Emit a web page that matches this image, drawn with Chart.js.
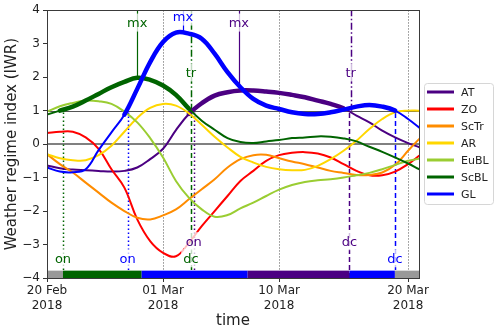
<!DOCTYPE html>
<html>
<head>
<meta charset="utf-8">
<script src="https://cdn.jsdelivr.net/npm/chart.js@4.4.1/dist/chart.umd.min.js"></script>
<style>
  html, body { margin: 0; padding: 0; background: #fff; }
  #wrap { width: 500px; height: 332px; }
</style>
</head>
<body>
<div id="wrap"><canvas id="chart" width="500" height="332"></canvas></div>
<script>
"use strict";

// days since 20 Feb 2018
var days = [0, 1, 2, 3, 4, 5, 6, 7, 8, 9, 10, 11, 12, 13, 14, 15, 16, 17, 18, 19,
            20, 21, 22, 23, 24, 25, 26, 27, 28, 28.85];

var atIndex   = [-0.64, -0.72, -0.76, -0.78, -0.8, -0.82, -0.8, -0.7, -0.45, -0.14, 0.42, 0.9, 1.22, 1.45, 1.55, 1.6, 1.6, 1.57, 1.53, 1.47, 1.4, 1.3, 1.2, 1.07, 0.85, 0.65, 0.4, 0.2, 0.03, -0.09];
var zoIndex   = [0.33, 0.37, 0.37, 0.2, -0.14, -0.75, -1.3, -2.25, -2.9, -3.25, -3.35, -2.95, -2.45, -2.0, -1.55, -1.1, -0.8, -0.5, -0.33, -0.26, -0.24, -0.28, -0.4, -0.6, -0.8, -0.93, -0.93, -0.82, -0.6, -0.35];
var sctrIndex = [-0.3, -0.6, -0.85, -1.15, -1.45, -1.75, -2.0, -2.2, -2.25, -2.13, -1.95, -1.65, -1.35, -1.05, -0.7, -0.45, -0.33, -0.32, -0.42, -0.52, -0.6, -0.7, -0.8, -0.86, -0.92, -0.92, -0.85, -0.62, -0.2, 0.15];
var arIndex   = [-0.3, -0.42, -0.48, -0.48, -0.33, -0.05, 0.37, 0.78, 1.08, 1.2, 1.15, 0.92, 0.58, 0.22, -0.1, -0.38, -0.55, -0.68, -0.75, -0.78, -0.77, -0.65, -0.45, -0.2, 0.1, 0.45, 0.75, 0.95, 1.0, 1.0];
var eublIndex = [0.97, 1.13, 1.23, 1.3, 1.28, 1.2, 0.97, 0.65, 0.18, -0.4, -1.1, -1.6, -1.95, -2.17, -2.12, -1.92, -1.75, -1.55, -1.36, -1.22, -1.13, -1.08, -1.05, -1.0, -0.93, -0.86, -0.75, -0.62, -0.5, -0.44];
var scblIndex = [0.88, 1.0, 1.12, 1.3, 1.5, 1.7, 1.86, 1.98, 1.92, 1.75, 1.47, 1.06, 0.7, 0.43, 0.18, 0.06, 0.03, 0.08, 0.12, 0.18, 0.2, 0.23, 0.22, 0.17, 0.08, -0.08, -0.23, -0.4, -0.58, -0.75];
var glIndex   = [-0.7, -0.82, -0.84, -0.75, -0.18, 0.35, 0.88, 1.65, 2.45, 3.05, 3.33, 3.3, 3.15, 2.7, 2.15, 1.7, 1.35, 1.15, 1.05, 0.95, 0.9, 0.9, 0.95, 1.03, 1.12, 1.17, 1.12, 1.0, 0.75, 0.5];

var regimeNames  = ['AT', 'ZO', 'ScTr', 'AR', 'EuBL', 'ScBL', 'GL'];
var regimeSeries = [atIndex, zoIndex, sctrIndex, arIndex, eublIndex, scblIndex, glIndex];
var regimeColors = ['#4b0082', '#ff0000', '#ff8c00', '#ffd700', '#9acd32', '#006400', '#0000ff'];

// active life cycle (onset .. decay) per regime, in days
var activeRegime = ['AT', 'ScBL', 'GL'];
var activeStart  = [11.4, 1.24, 6.26];
var activeEnd    = [23.5, 11.16, 26.98];

// life cycle events
var eventRegime = ['ScBL', 'ScBL', 'ScBL', 'ScBL', 'GL', 'GL', 'GL', 'AT', 'AT', 'AT', 'AT'];
var eventKind   = ['on', 'mx', 'tr', 'dc', 'on', 'mx', 'dc', 'on', 'mx', 'tr', 'dc'];
var eventDay    = [1.24, 7.0, 11.16, 11.16, 6.26, 10.54, 26.98, 11.38, 14.88, 23.55, 23.46];
var eventFrom   = [-4, 1.98, 1, -4, -4, 3.34, -4, -4, 1.62, 1, -4];
var eventTo     = [1, 4, 4, 1, 1, 4, 1, 1, 4, 4, 1];
var eventTextY  = [-3.41, 3.63, 2.14, -3.41, -3.41, 3.81, -3.41, -2.9, 3.63, 2.14, -2.9];

// dominant regime strip along the bottom
var stripStart  = [0, 1.24, 7.34, 15.56, 23.46, 26.98];
var stripEnd    = [1.24, 7.34, 15.56, 23.46, 26.98, 28.85];
var stripRegime = ['none', 'ScBL', 'GL', 'AT', 'GL', 'none'];

var tickDays   = [0, 9, 18, 28];
var tickLabels = [['20 Feb', '2018'], ['01 Mar', '2018'], ['10 Mar', '2018'], ['20 Mar', '2018']];

var FONT = 'DejaVu Sans';
var THIN = 2;
var THICK = 4.5;

function colorOf(name) {
    var i = regimeNames.indexOf(name);
    return i < 0 ? '#999999' : regimeColors[i];
}

function segWidth(name) {
    var k = activeRegime.indexOf(name);
    return function (ctx) {
        if (k < 0) return undefined;
        var mid = (ctx.p0.parsed.x + ctx.p1.parsed.x) / 2;
        return (mid > activeStart[k] && mid < activeEnd[k]) ? THICK : undefined;
    };
}

var datasets = regimeNames.map(function (name, i) {
    return {
        label: name,
        data: days.map(function (d, j) { return { x: d, y: regimeSeries[i][j] }; }),
        borderColor: regimeColors[i],
        borderWidth: THIN,
        tension: 0.4,
        pointRadius: 0,
        borderCapStyle: 'round',
        borderJoinStyle: 'round',
        fill: false,
        order: regimeNames.length - i,
        segment: { borderWidth: segWidth(name) }
    };
});

var dashes = { on: [1.5, 2.5], dc: [5, 3], tr: [7, 2.5, 1.5, 2.5], mx: [] };

var overlay = {
    id: 'overlay',
    beforeDatasetsDraw: function (chart) {
        var ctx = chart.ctx, xs = chart.scales.x, ys = chart.scales.y, a = chart.chartArea;
        ctx.save();
        ctx.beginPath();
        ctx.rect(a.left, a.top, a.right - a.left, a.bottom - a.top);
        ctx.clip();

        // dotted date grid
        ctx.strokeStyle = '#8c8c8c';
        ctx.lineWidth = 1;
        ctx.setLineDash([1.5, 1.5]);
        tickDays.forEach(function (d) {
            if (d <= 0) return;
            var px = Math.round(xs.getPixelForValue(d)) + 0.5;
            ctx.beginPath();
            ctx.moveTo(px, a.top);
            ctx.lineTo(px, a.bottom);
            ctx.stroke();
        });
        ctx.setLineDash([]);

        // reference lines at 0 and 1
        ctx.strokeStyle = '#808080';
        ctx.lineWidth = 2;
        var y0 = Math.round(ys.getPixelForValue(0));
        ctx.beginPath(); ctx.moveTo(a.left, y0); ctx.lineTo(a.right, y0); ctx.stroke();
        ctx.strokeStyle = '#555555';
        ctx.lineWidth = 1;
        var y1 = Math.round(ys.getPixelForValue(1)) + 0.5;
        ctx.beginPath(); ctx.moveTo(a.left, y1); ctx.lineTo(a.right, y1); ctx.stroke();

        // event lines
        eventDay.forEach(function (d, i) {
            var px = Math.round(xs.getPixelForValue(d)) + 0.5;
            ctx.strokeStyle = colorOf(eventRegime[i]);
            ctx.lineWidth = eventKind[i] === 'mx' ? 1.2 : 1.5;
            ctx.setLineDash(dashes[eventKind[i]]);
            ctx.beginPath();
            ctx.moveTo(px, ys.getPixelForValue(eventFrom[i]));
            ctx.lineTo(px, ys.getPixelForValue(eventTo[i]));
            ctx.stroke();
        });
        ctx.setLineDash([]);
        ctx.restore();
    },
    afterDatasetsDraw: function (chart) {
        var ctx = chart.ctx, xs = chart.scales.x, ys = chart.scales.y, a = chart.chartArea;
        ctx.save();

        // regime strip
        var top = ys.getPixelForValue(-3.78), bot = ys.getPixelForValue(-4);
        stripStart.forEach(function (s, i) {
            var l = xs.getPixelForValue(s), r = xs.getPixelForValue(stripEnd[i]);
            ctx.fillStyle = colorOf(stripRegime[i]);
            ctx.fillRect(l, top, r - l, bot - top);
        });

        // event labels
        ctx.font = '13px "' + FONT + '"';
        ctx.textAlign = 'center';
        ctx.textBaseline = 'middle';
        eventDay.forEach(function (d, i) {
            var px = xs.getPixelForValue(d), py = ys.getPixelForValue(eventTextY[i]);
            var w = ctx.measureText(eventKind[i]).width;
            ctx.fillStyle = 'rgba(255,255,255,0.75)';
            ctx.fillRect(px - w / 2 - 2, py - 9, w + 4, 18);
            ctx.fillStyle = colorOf(eventRegime[i]);
            ctx.fillText(eventKind[i], px, py + 1);
        });

        // frame
        ctx.strokeStyle = '#3a3a3a';
        ctx.lineWidth = 1;
        ctx.strokeRect(Math.round(a.left) + 0.5, Math.round(a.top) + 0.5,
                       Math.round(a.right - a.left), Math.round(a.bottom - a.top));

        // legend
        var lx = 424.5, ly = 83.5, lw = 69, lh = 121;
        ctx.beginPath();
        ctx.roundRect(lx, ly, lw, lh, 3);
        ctx.fillStyle = 'rgba(255,255,255,0.8)';
        ctx.fill();
        ctx.strokeStyle = '#d6d6d6';
        ctx.stroke();
        ctx.font = '11px "' + FONT + '"';
        ctx.textAlign = 'left';
        regimeNames.forEach(function (name, i) {
            var yy = 92 + 17 * i;
            ctx.strokeStyle = regimeColors[i];
            ctx.lineWidth = 3;
            ctx.beginPath();
            ctx.moveTo(427, yy);
            ctx.lineTo(454, yy);
            ctx.stroke();
            ctx.fillStyle = '#222';
            ctx.fillText(name, 461, yy + 1);
        });
        ctx.restore();
    }
};

new Chart(document.getElementById('chart'), {
    type: 'line',
    data: { datasets: datasets },
    options: {
        responsive: false,
        animation: false,
        devicePixelRatio: 1,
        layout: { padding: { left: 0, right: 81, top: 10, bottom: 0 } },
        plugins: { legend: { display: false }, tooltip: { enabled: false } },
        scales: {
            x: {
                type: 'linear',
                min: 0,
                max: 28.85,
                afterBuildTicks: function (s) { s.ticks = tickDays.map(function (v) { return { value: v }; }); },
                afterFit: function (s) { s.height = 54; },
                grid: { drawOnChartArea: false, drawTicks: true, tickLength: 4, tickColor: '#333', tickWidth: 1 },
                border: { display: true, color: '#333', width: 1 },
                ticks: {
                    autoSkip: false, maxRotation: 0, padding: 2, color: '#222',
                    font: { family: FONT, size: 12, lineHeight: 1.2 },
                    callback: function (v, i) { return tickLabels[i]; }
                },
                title: {
                    display: true, text: 'time', color: '#222',
                    font: { family: FONT, size: 15 }, padding: { top: 0, bottom: 2 }
                }
            },
            y: {
                min: -4,
                max: 4,
                afterFit: function (s) { s.width = 47; },
                grid: { drawOnChartArea: false, drawTicks: true, tickLength: 4, tickColor: '#333', tickWidth: 1 },
                border: { display: true, color: '#333', width: 1 },
                ticks: {
                    stepSize: 1, padding: 3, color: '#222',
                    font: { family: FONT, size: 12 },
                    callback: function (v) { return String(v).replace('-', '\u2212'); }
                },
                title: {
                    display: true, text: 'Weather regime index (IWR)', color: '#222',
                    font: { family: FONT, size: 15 }, padding: { top: 3, bottom: 0 }
                }
            }
        }
    },
    plugins: [overlay]
});
</script>
</body>
</html>
